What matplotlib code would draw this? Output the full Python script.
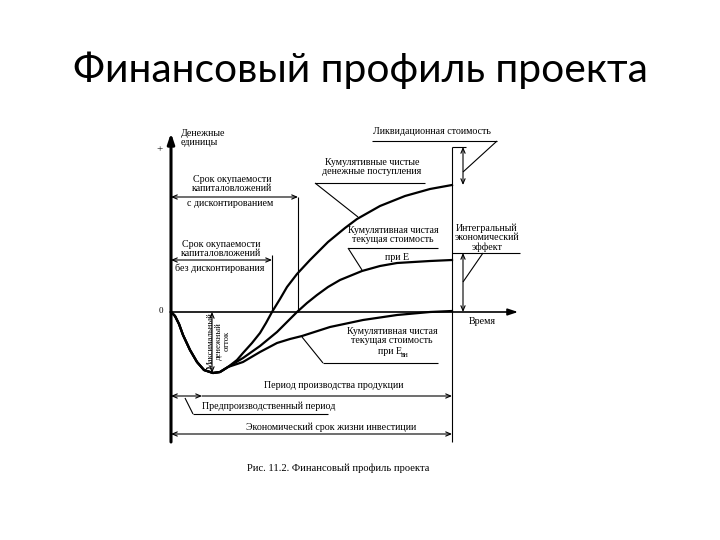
import matplotlib
matplotlib.use("Agg")
import matplotlib.pyplot as plt

# ---- data (time t, money v); origin at the axes crossing ----
dip_t = [0, 4, 8, 12, 19, 26, 33, 42, 49, 57]
dip_v = [0, -4, -12, -23, -38, -50, -58, -61, -60, -55]

top_t = [66, 72, 81, 89, 95, 101, 109, 116, 126, 139, 157, 174, 186, 209, 234, 259, 281]
top_v = [-48, -41, -31, -21, -11, 0, 13, 25, 38, 52, 70, 84, 93, 106, 116, 123, 127]

mid_t = [72, 89, 106, 116, 126, 136, 146, 157, 169, 191, 209, 226, 259, 281]
mid_v = [-46, -34, -20, -10, 0, 9, 17, 25, 32, 41, 46, 49, 51, 52]

low_t = [72, 89, 106, 119, 131, 159, 192, 226, 259, 281]
low_v = [-50, -40, -31, -27, -24, -15, -8, -3, 0, 1]

title = "Финансовый профиль проекта"
caption = "Рис. 11.2. Финансовый профиль проекта"

SERIF = "Liberation Serif"
FS = 7.2

fig = plt.figure(figsize=(7.2, 5.4), dpi=100)
ax = fig.add_axes([0, 0, 1, 1])
ax.set_xlim(-171, 549)
ax.set_ylim(-228, 312)
ax.axis("off")


def P(x, y):
    """picture pixel -> diagram coordinates"""
    return (x - 171, 312 - y)


def line(x0, y0, x1, y1, lw=0.8):
    a, b = P(x0, y0)
    c, d = P(x1, y1)
    ax.plot([a, c], [b, d], color="black", lw=lw, solid_capstyle="butt")


def arrow(x0, y0, x1, y1, style="<->", lw=0.8):
    ax.annotate("", xy=P(x1, y1), xytext=P(x0, y0),
                arrowprops=dict(arrowstyle=style + ",head_length=0.35,head_width=0.15",
                                lw=lw, color="black", shrinkA=0, shrinkB=0))


def txt(x, y, s, ha="center", size=FS, **kw):
    ax.text(*P(x, y), s, ha=ha, va="center", fontsize=size, family=SERIF,
            linespacing=1.05, **kw)


# title
fig.text(0.5, 1 - 70 / 540, title, ha="center", va="center", fontsize=29.3, family="Lato")

# curves
def curve(t, v):
    ax.plot(dip_t + t, dip_v + v, color="black", lw=1.6, solid_joinstyle="round")

curve(top_t, top_v)
curve(mid_t, mid_v)
curve(low_t, low_v)

# axes
ax.annotate("", xy=P(171, 133), xytext=P(171, 442),
            arrowprops=dict(arrowstyle="-|>,head_length=0.6,head_width=0.2", lw=2.2,
                            color="black", shrinkA=0, shrinkB=0))
ax.annotate("", xy=P(518, 312), xytext=P(171, 312),
            arrowprops=dict(arrowstyle="-|>,head_length=0.6,head_width=0.2", lw=1.2,
                            color="black", shrinkA=0, shrinkB=0))
txt(160, 150, "+", size=8)
txt(161, 311, "0", size=6.5)
txt(181, 138, "Денежные\nединицы", ha="left")
txt(482, 322, "Время")

# end of economic life
line(452, 147, 452, 442)
line(452, 147, 466, 147)
arrow(463, 147, 463, 185)
txt(432, 131, "Ликвидационная стоимость")
line(372, 141, 497, 141)
line(497, 141, 463, 172)

# cumulative net cash inflows
txt(372, 167, "Кумулятивные чистые\nденежные поступления")
line(315, 183, 425, 183)
line(315, 183, 358, 217)

# discounted payback
txt(232, 184, "Срок окупаемости\nкапиталовложений")
txt(230, 203, "с дисконтированием")
arrow(171, 197, 298, 197)
line(298, 197, 298, 312)

# undiscounted payback
txt(221, 249, "Срок окупаемости\nкапиталовложений")
txt(220, 268, "без дисконтирования")
arrow(171, 260, 272, 260)
line(272, 255, 272, 312)

# NPV at E
txt(393, 235, "Кумулятивная чистая\nтекущая стоимость")
line(348, 248, 438, 248)
txt(397, 257, "при Е")
line(348, 248, 362, 270)

# integral effect
txt(487, 238, "Интегральный\nэкономический\nэффект")
line(452, 253, 520, 253)
arrow(463, 253, 463, 312)
line(483, 253, 463, 282)

# NPV at internal rate
txt(392, 336, "Кумулятивная чистая\nтекущая стоимость")
txt(390, 352, "при Е")
txt(405, 355, "вн", size=5.5, ha="center")
line(323, 363, 438, 363)
line(302, 337, 323, 363)

# maximum outflow
arrow(212, 312, 212, 373)
ax.text(*P(219, 341), "Максимальный\nденежный\nотток", rotation=90, ha="center",
        va="center", fontsize=6.2, family=SERIF, linespacing=1.0, multialignment="center")

# periods
txt(334, 385, "Период производства продукции")
arrow(171, 396, 202, 396)
arrow(202, 396, 452, 396, style="->")
txt(202, 406, "Предпроизводственный период", ha="left")
line(193, 414, 328, 414)
line(193, 414, 185, 398)

txt(331, 427, "Экономический срок жизни инвестиции")
arrow(171, 434, 452, 434)

# caption
txt(338, 468, caption, size=7.6)

fig.savefig("out.png", dpi=100, facecolor="white")
